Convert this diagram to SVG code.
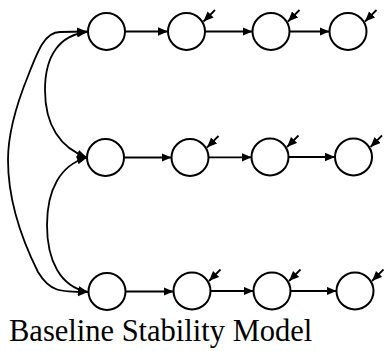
<svg xmlns="http://www.w3.org/2000/svg" width="385" height="351" viewBox="0 0 385 351">
<style>
.node{fill:#fff;stroke:#000;stroke-width:2}
.edge{fill:none;stroke:#000;stroke-width:1.8;marker-end:url(#ah)}
.both{marker-start:url(#ah)}
.lbl{font-family:"Liberation Serif","Times New Roman",serif;font-size:30.5px;fill:#000}
</style>
<defs>
<marker id="ah" markerUnits="userSpaceOnUse" markerWidth="12" markerHeight="10" refX="10" refY="4.3" orient="auto-start-reverse">
<path d="M0,0 L10,4.3 L0,8.6 z" fill="#000"/>
</marker>
</defs>
<g id="connectors">
<path class="edge both" d="M87,32 C60,35 45,55 45,90 C45,125 60,148 87,157.5"/>
<path class="edge both" d="M87,157.5 C60,165 47,190 47,225 C47,260 60,287 88,292"/>
<path class="edge both" d="M88,292 C60,292 50,292 38,272 C22,240 8,200 8,160 C8,135 15,108 28,76 C38,50 45,32 60,32 L87,31.5"/>
<line class="edge" x1="125" y1="31.5" x2="168" y2="31.5"/>
<line class="edge" x1="205" y1="31.5" x2="252.5" y2="31.5"/>
<line class="edge" x1="289.5" y1="31.5" x2="329.5" y2="31.5"/>
<line class="edge" x1="124" y1="157.5" x2="171.5" y2="157.5"/>
<line class="edge" x1="208.5" y1="157.3" x2="251.5" y2="157.3"/>
<line class="edge" x1="288.5" y1="157" x2="335" y2="157"/>
<line class="edge" x1="125.5" y1="291.5" x2="173.5" y2="291.5"/>
<line class="edge" x1="210.5" y1="291" x2="253.5" y2="291"/>
<line class="edge" x1="290.5" y1="291" x2="336.5" y2="291"/>
<line class="edge" x1="215" y1="10" x2="203.5" y2="21.5"/>
<line class="edge" x1="299.5" y1="10" x2="288" y2="21.5"/>
<line class="edge" x1="376.5" y1="10" x2="365" y2="21.5"/>
<line class="edge" x1="218.5" y1="136" x2="207" y2="147.5"/>
<line class="edge" x1="298.5" y1="135.5" x2="287" y2="147"/>
<line class="edge" x1="382" y1="135.5" x2="370.5" y2="147"/>
<line class="edge" x1="220.5" y1="269.5" x2="209" y2="281"/>
<line class="edge" x1="300.5" y1="269.5" x2="289" y2="281"/>
<line class="edge" x1="383.5" y1="269.5" x2="372" y2="281"/>
</g>
<g id="n11"><circle class="node" cx="106.5" cy="31.5" r="18.5"/></g>
<g id="n12"><circle class="node" cx="186.5" cy="31.5" r="18.5"/></g>
<g id="n13"><circle class="node" cx="271" cy="31.5" r="18.5"/></g>
<g id="n14"><circle class="node" cx="348" cy="31.5" r="18.5"/></g>
<g id="n21"><circle class="node" cx="105.5" cy="157.5" r="18.5"/></g>
<g id="n22"><circle class="node" cx="190" cy="157.5" r="18.5"/></g>
<g id="n23"><circle class="node" cx="270" cy="157" r="18.5"/></g>
<g id="n24"><circle class="node" cx="353.5" cy="157" r="18.5"/></g>
<g id="n31"><circle class="node" cx="107" cy="291.5" r="18.5"/></g>
<g id="n32"><circle class="node" cx="192" cy="291" r="18.5"/></g>
<g id="n33"><circle class="node" cx="272" cy="291" r="18.5"/></g>
<g id="n34"><circle class="node" cx="355" cy="291" r="18.5"/></g>
<text class="lbl" x="9" y="341">Baseline Stability Model</text>
</svg>
